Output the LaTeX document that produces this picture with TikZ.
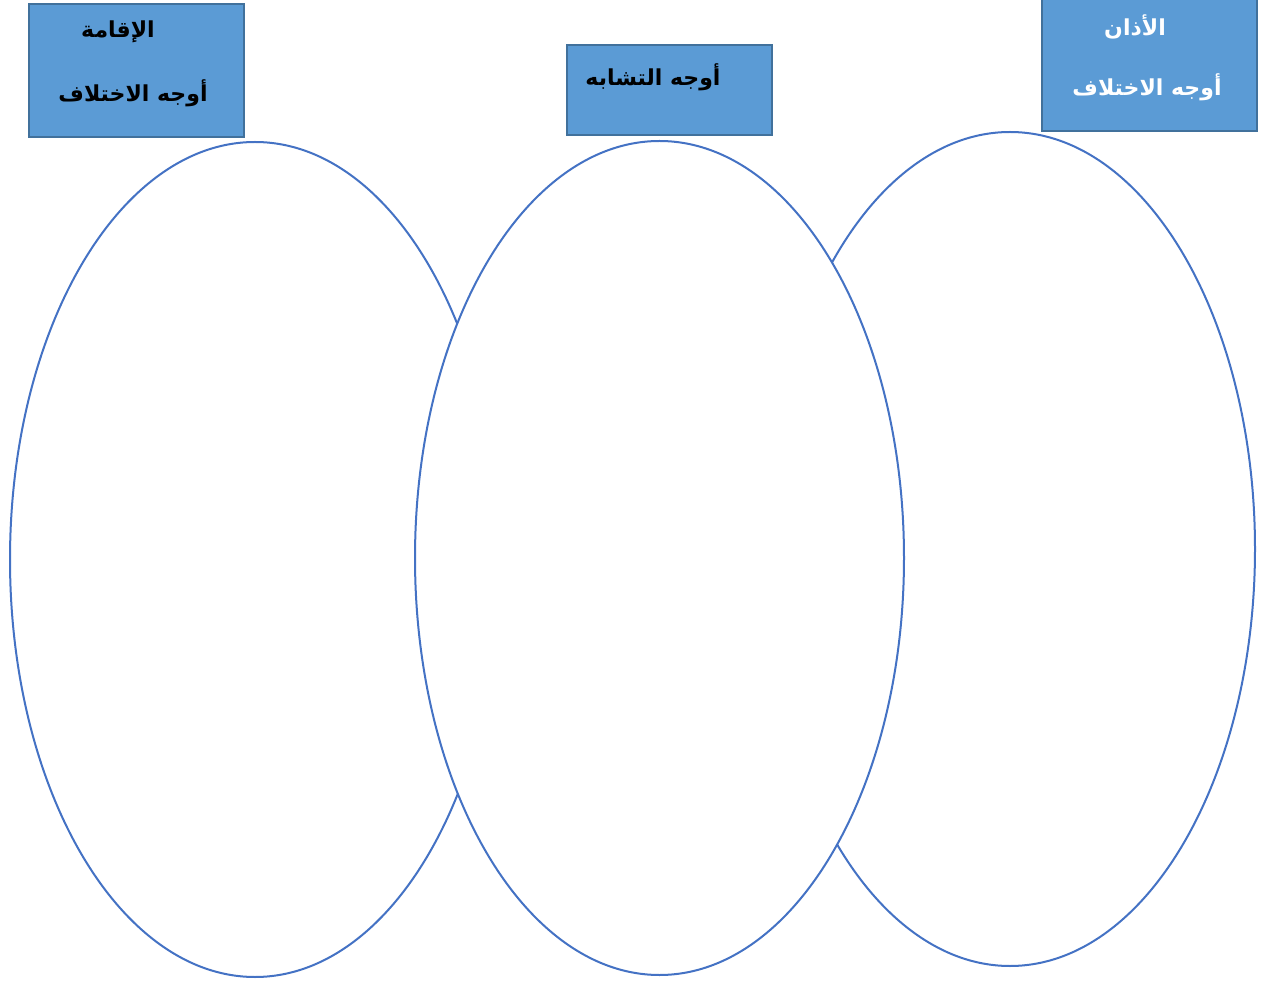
\documentclass[tikz,border=0pt]{standalone}
\usepackage{fontspec}
\newfontfamily\arabicfont[Script=Arabic]{DejaVu Sans}
\TeXXeTstate=1
\definecolor{boxfill}{HTML}{5B9BD5}
\definecolor{boxline}{HTML}{41719C}
\definecolor{ellline}{HTML}{4472C4}
\begin{document}
\begin{tikzpicture}[x=1pt,y=-1pt,
  ell/.style={draw=ellline,line width=2pt,fill=white},
  hbox/.style={draw=boxline,fill=boxfill,line width=2pt},
  lbl/.style={font=\arabicfont\bfseries\fontsize{22}{24}\selectfont,inner sep=0pt,anchor=center}]
\useasboundingbox (0,0) rectangle (1262,981);
% ellipses
\draw[ell] (255,559.5) ellipse [x radius=245, y radius=417.5];
\draw[ell] (1010,549) ellipse [x radius=245, y radius=417];
\draw[ell] (659.5,558) ellipse [x radius=244.5, y radius=417];
% boxes
\path[hbox] (29,4) rectangle (244,137);
\path[hbox] (567,45) rectangle (772,135);
\path[hbox] (1042,-2) rectangle (1257,131);
% texts
\node[lbl,text=black] (t1) at (118,32) {\beginR الإقامة\endR};
\node[lbl,text=black] (t2) at (133,93) {\beginR أوجه الاختلاف\endR};
\node[lbl,text=black] (t3) at (653,77) {\beginR أوجه التشابه\endR};
\node[lbl,text=white] (t4) at (1135,27) {\beginR الأذان\endR};
\node[lbl,text=white] (t5) at (1147,87) {\beginR أوجه الاختلاف\endR};
\end{tikzpicture}
\end{document}
